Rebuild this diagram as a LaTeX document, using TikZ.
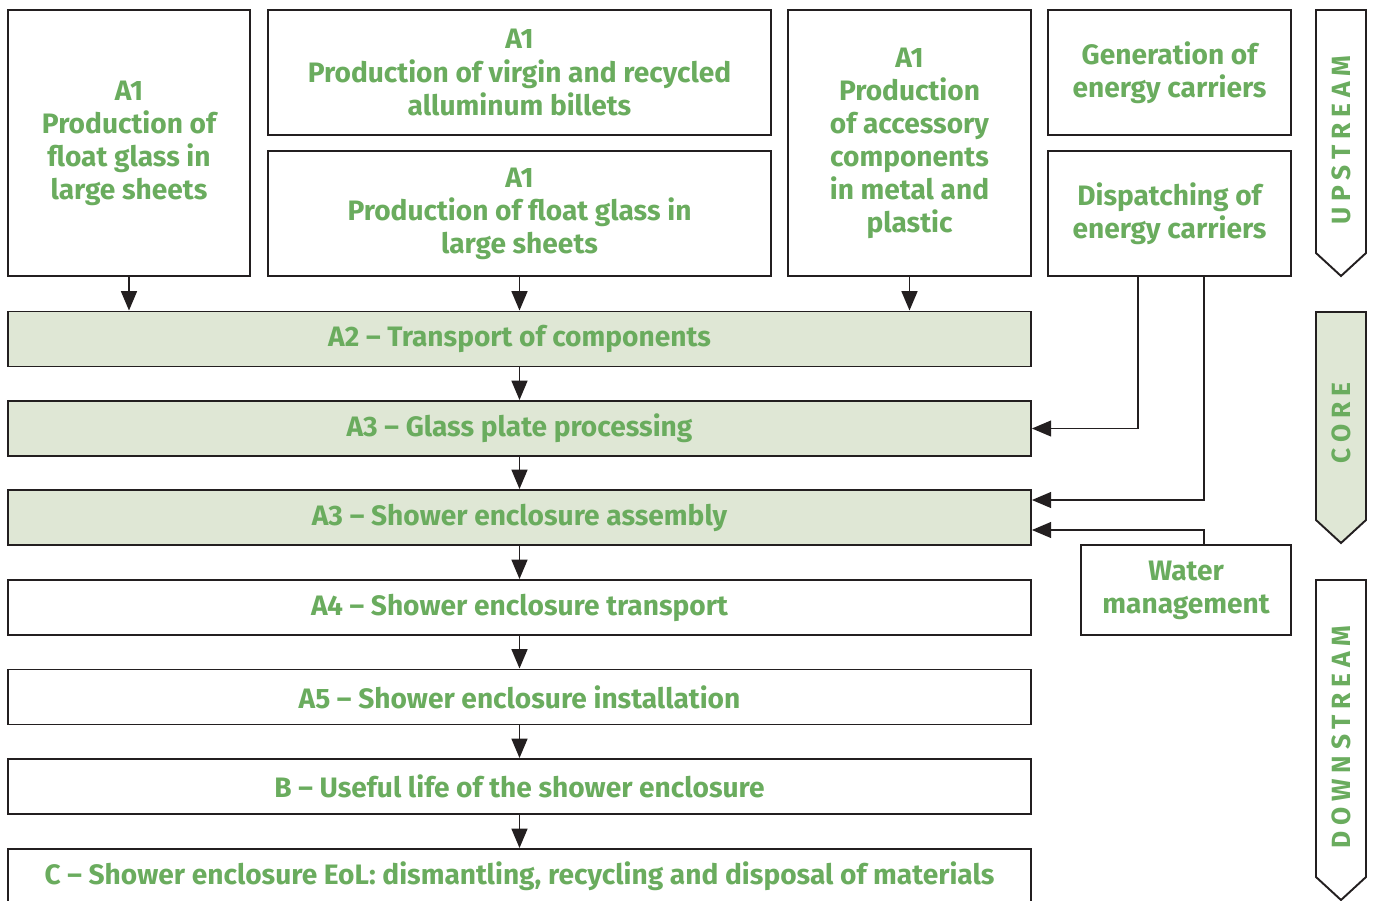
\documentclass[tikz,border=0pt]{standalone}
\usepackage{fontspec}
\usepackage{tikz}
\usetikzlibrary{positioning, arrows.meta}
\setmainfont{Fira Sans}
\definecolor{leafgreen}{RGB}{106,172,94}
\definecolor{corefill}{RGB}{223,231,213}
\definecolor{inkline}{RGB}{35,31,32}

\begin{document}
\begin{tikzpicture}[x=0.02cm, y=-0.02cm,
        box/.style={draw=inkline, line width=1.1pt, rectangle, align=center, text=leafgreen,
            font=\fontsize{16}{18.8}\selectfont\bfseries, inner sep=2pt},
        corebox/.style={box, fill=corefill},
        arr/.style={-{Triangle[width=9pt, length=11pt]}, draw=inkline, line width=1.1pt},
        phase/.style={draw=inkline, line width=1.1pt},
        phaselabel/.style={rotate=90, text=leafgreen, font=\fontsize{15}{18}\selectfont\bfseries\addfontfeature{LetterSpace=22}}]
        \useasboundingbox (0,0) rectangle (1373,900);
        % upstream boxes
        \node[box, minimum width=4.84cm, minimum height=5.32cm] (glassA) at (129,143) {A1\\Production of\\float glass in\\large sheets};
        \node[box, minimum width=10.06cm, minimum height=2.5cm] (billets) at (519.5,72.5) {A1\\Production of virgin and recycled\\alluminum billets};
        \node[box, minimum width=10.06cm, minimum height=2.5cm] (glassB) at (519.5,213.5) {A1\\Production of float glass in\\large sheets};
        \node[box, minimum width=4.86cm, minimum height=5.32cm] (access) at (909.5,143) {A1\\Production\\of accessory\\components\\in metal and\\plastic};
        \node[box, minimum width=4.86cm, minimum height=2.5cm] (gen) at (1169.5,72.5) {Generation of\\energy carriers};
        \node[box, minimum width=4.86cm, minimum height=2.5cm] (disp) at (1169.5,213.5) {Dispatching of\\energy carriers};
        % core and downstream rows
        \node[corebox, minimum width=20.46cm, minimum height=1.1cm] (A2) at (519.5,339) {A2 -- Transport of components};
        \node[corebox, minimum width=20.46cm, minimum height=1.1cm] (A3g) at (519.5,428.5) {A3 -- Glass plate processing};
        \node[corebox, minimum width=20.46cm, minimum height=1.1cm] (A3a) at (519.5,517.5) {A3 -- Shower enclosure assembly};
        \node[box, minimum width=20.46cm, minimum height=1.1cm] (A4) at (519.5,607.5) {A4 -- Shower enclosure transport};
        \node[box, minimum width=20.46cm, minimum height=1.1cm] (A5) at (519.5,697) {A5 -- Shower enclosure installation};
        \node[box, minimum width=20.46cm, minimum height=1.1cm] (B) at (519.5,786.5) {B -- Useful life of the shower enclosure};
        \node[box, minimum width=20.46cm, minimum height=1.1cm] (C) at (519.5,876.5) {C -- Shower enclosure EoL: dismantling, recycling and disposal of materials};
        \node[box, minimum width=4.2cm, minimum height=1.8cm] (water) at (1186,590) {Water\\management};
        % arrows
        \draw[arr] (glassA.south) -- (glassA.south |- A2.north);
        \draw[arr] (glassB.south) -- (A2.north);
        \draw[arr] (access.south) -- (access.south |- A2.north);
        \draw[arr] (A2) -- (A3g);
        \draw[arr] (A3g) -- (A3a);
        \draw[arr] (A3a) -- (A4);
        \draw[arr] (A4) -- (A5);
        \draw[arr] (A5) -- (B);
        \draw[arr] (B) -- (C);
        \draw[arr] ([xshift=-0.63cm]disp.south) |- (A3g.east);
        \draw[arr] ([xshift=0.69cm]disp.south) |- ([yshift=0.35cm]A3a.east);
        \draw[arr] ([xshift=0.36cm]water.north) |- ([yshift=-0.25cm]A3a.east);
        % phase arrows
        \draw[phase] (1316,10) -- (1366,10) -- (1366,253) -- (1341,276) -- (1316,253) -- cycle;
        \draw[phase, fill=corefill] (1316,312) -- (1366,312) -- (1366,520) -- (1341,543) -- (1316,520) -- cycle;
        \draw[phase] (1316,580) -- (1366,580) -- (1366,877) -- (1341,900) -- (1316,877) -- cycle;
        \node[phaselabel] (up) at (1341,140) {UPSTREAM};
        \node[phaselabel] (core) at (1341,423) {CORE};
        \node[phaselabel] (down) at (1341,737) {DOWNSTREAM};
    \end{tikzpicture}
\end{document}
